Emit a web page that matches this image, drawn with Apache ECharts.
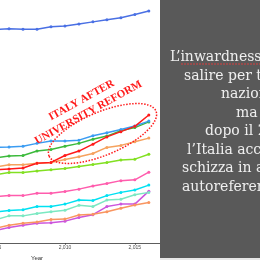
<!DOCTYPE html>
<html>
<head>
<meta charset="utf-8">
<script src="https://cdn.jsdelivr.net/npm/echarts@6/dist/echarts.min.js"></script>
<style>html,body{margin:0;padding:0;background:#fff;}#c{width:260px;height:260px;}</style>
</head>
<body>
<div id="c"></div>
<script>
// Years (x axis) and tick labels
const years = [2005,2006,2007,2008,2009,2010,2011,2012,2013,2014,2015,2016];
const tickYears = [2005, 2010, 2015];
// Inwardness (%) per country line
const lineTopBlue   = [52.7,52.9,52.8,52.8,53.4,53.6,54.1,54.6,55.1,55.6,56.4,57.3];
const lineDodger    = [23.6,23.7,23.9,24.6,25.2,25.2,25.4,26.5,27.2,28.0,28.9,30.1];
const lineGreen     = [21.0,21.5,21.6,22.7,23.1,23.9,24.6,25.6,26.4,27.7,28.5,29.9];
const lineItaly     = [18.1,18.3,18.5,19.7,19.9,21.6,22.7,24.4,26.2,27.5,28.8,31.6];
const lineSandy     = [18.8,19.3,19.3,19.7,19.9,20.6,21.3,22.1,23.6,24.1,25.0,25.9];
const lineLime      = [16.8,17.4,17.4,17.8,18.1,18.4,18.9,19.4,19.9,20.5,20.7,21.9];
const linePink      = [11.5,11.7,11.7,12.3,12.3,12.7,13.3,14.1,14.7,15.4,15.6,17.5];
const lineCyan      = [7.7,8.0,8.2,9.0,9.0,9.6,10.6,10.5,11.7,12.5,13.1,14.3];
const lineAqua      = [5.7,6.7,6.7,7.3,7.7,8.1,9.3,9.0,10.6,10.8,11.9,12.5];
const lineSalmon    = [3.6,4.4,4.9,5.2,5.8,5.9,6.9,7.1,7.7,8.6,9.4,10.0];
const linePurple    = [3.1,3.8,4.4,4.9,5.0,5.4,6.3,7.0,9.0,9.6,9.6,12.8];
// Texts
const annotationLines = ['ITALY AFTER', 'UNIVERSITY REFORM'];
const panelLines = ["L\u2019inwardness tende a", 'salire per tutte le', 'nazioni', 'ma', 'dopo il 2010', "l\u2019Italia accelera e", 'schizza in alto:', 'autoreferenzialit\u00e0'];
const axisName = 'Year';

const seriesDefs = [
  {data: lineTopBlue, color: '#4a70e4'},
  {data: linePurple, color: '#cc55dd'},
  {data: lineSalmon, color: '#f99560'},
  {data: lineAqua, color: '#7be8c2'},
  {data: lineCyan, color: '#00e1f2'},
  {data: linePink, color: '#ff5cad'},
  {data: lineLime, color: '#82e022'},
  {data: lineSandy, color: '#f5a25e'},
  {data: lineGreen, color: '#3cba3c'},
  {data: lineDodger, color: '#3b9cf2'},
  {data: lineItaly, color: '#ff1a1a'}
];

const chart = echarts.init(document.getElementById('c'), null, {renderer: 'canvas'});
const panelX = [170, 184, 221, 236, 205, 187, 182, 182];
const panelY0 = 57.5, panelStep = 18.5;

const graphics = [
  {type: 'rect', left: 160, top: 0, shape: {x: 0, y: 0, width: 100, height: 258}, style: {fill: '#595959'}, z: 10},
  {type: 'rect', left: 160, top: 258, shape: {x: 0, y: 0, width: 100, height: 2}, style: {fill: '#e6e6e6'}, z: 10},
  {type: 'line', shape: {x1: 181, y1: 64, x2: 260, y2: 64}, style: {stroke: '#d84040', lineWidth: 1, lineDash: [2, 1]}, z: 11},
  {
    type: 'text', x: 85, y: 106.5, rotation: 29 * Math.PI / 180, z: 12,
    style: {text: annotationLines.join('\n'), fill: '#ff1a1a', fontFamily: 'Liberation Serif', fontWeight: 'bold', fontSize: 11, lineHeight: 14, align: 'center', verticalAlign: 'middle'}
  },
  {
    type: 'ellipse', x: 102.5, y: 133.5, rotation: 22.8 * Math.PI / 180, z: 12,
    shape: {cx: 0, cy: 0, rx: 58, ry: 21.5},
    style: {fill: 'none', stroke: '#ff1a1a', lineWidth: 1.5, lineDash: [1.5, 1.5]}
  }
];
panelLines.forEach(function (t, i) {
  graphics.push({
    type: 'text', x: panelX[i], y: panelY0 + i * panelStep, z: 11,
    style: {text: t, fill: '#efefef', fontFamily: 'DejaVu Serif', fontSize: 14, align: 'left', verticalAlign: 'middle'}
  });
});

chart.setOption({
  animation: false,
  backgroundColor: '#ffffff',
  grid: {left: -86, right: 100, top: 0, bottom: 17, containLabel: false, outerBoundsMode: 'none'},
  xAxis: {
    type: 'value', min: 1999.2, max: 2016.8,
    name: axisName, nameLocation: 'middle', nameGap: 11,
    nameTextStyle: {fontSize: 6, color: '#333', fontFamily: 'Liberation Sans'},
    axisLine: {show: true, lineStyle: {color: '#333', width: 0.8}},
    axisTick: {show: true, length: 2, customValues: tickYears, lineStyle: {color: '#333', width: 0.6}},
    axisLabel: {customValues: tickYears, fontSize: 5, color: '#4d4d4d', margin: 2.5, fontFamily: 'Liberation Sans'},
    splitLine: {show: false}
  },
  yAxis: {type: 'value', min: 0, max: 60, show: false, splitLine: {show: false}},
  graphic: graphics,
  series: seriesDefs.map(function (s) {
    return {
      type: 'line',
      data: years.map(function (y, i) { return [y, s.data[i]]; }),
      symbol: 'circle', symbolSize: 3, showSymbol: true,
      itemStyle: {color: s.color},
      lineStyle: {color: s.color, width: 1.5},
      emphasis: {disabled: true}
    };
  })
});
</script>
</body>
</html>
